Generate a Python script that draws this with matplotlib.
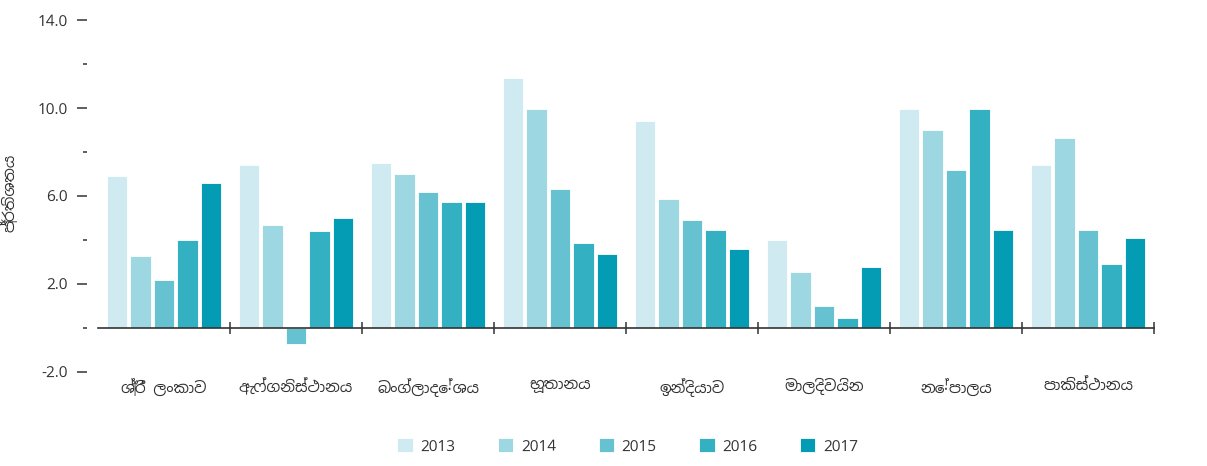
import matplotlib
matplotlib.use('Agg')
import matplotlib.pyplot as plt
import numpy as np
from matplotlib import font_manager

countries = ['ශ්‍රී ලංකාව', 'ඇෆ්ගනිස්ථානය', 'බංග්ලාදේශය', 'භූතානය',
             'ඉන්දියාව', 'මාලදිවයින', 'නේපාලය', 'පාකිස්ථානය']
years = ['2013', '2014', '2015', '2016', '2017']
v2013 = [6.9, 7.4, 7.5, 11.35, 9.42, 4.02, 9.95, 7.42]
v2014 = [3.27, 4.68, 6.98, 9.94, 5.86, 2.55, 8.98, 8.62]
v2015 = [2.18, -0.71, 6.16, 6.32, 4.9, 0.98, 7.2, 4.45]
v2016 = [4.0, 4.39, 5.73, 3.86, 4.45, 0.47, 9.95, 2.9]
v2017 = [6.6, 4.98, 5.73, 3.35, 3.58, 2.76, 4.45, 4.09]
colors = ['#cfeaf0', '#9dd7e1', '#66c2d1', '#33b0c2', '#039cb4']

# look for a font that has Sinhala glyphs
sinhala = [f.name for f in font_manager.fontManager.ttflist
           if 'sinhala' in f.name.lower() or 'iskoola' in f.name.lower()]
plt.rcParams['font.family'] = sinhala[:1] + ['DejaVu Sans']
txt = '#333333'

fig = plt.figure(figsize=(12.07, 4.66), dpi=100)
ax = fig.add_axes([98 / 1207, 1 - 372 / 466, 1056 / 1207, 352 / 466])

x = np.arange(len(countries))
pitch = 0.178
width = 0.152
for i, (vals, yr) in enumerate(zip([v2013, v2014, v2015, v2016, v2017], years)):
    ax.bar(x + (i - 2) * pitch, vals, width, color=colors[i], label=yr,
           edgecolor='white', linewidth=0.6, zorder=2)

ax.set_xlim(-0.5, 7.5)
ax.set_ylim(-2, 14)

for s in ['top', 'right', 'left']:
    ax.spines[s].set_visible(False)
ax.spines['left'].set_position(('outward', 8))
ax.spines['bottom'].set_position(('data', 0))
ax.spines['bottom'].set_color('#333333')
ax.spines['bottom'].set_linewidth(1.2)
ax.spines['bottom'].set_zorder(3)

ax.set_yticks([-2, 2, 6, 10, 14])
ax.set_yticks([0, 4, 8, 12], minor=True)
ax.set_yticklabels(['%.1f' % v for v in [-2, 2, 6, 10, 14]])
ax.tick_params(axis='y', which='major', length=7.2, width=1.1, color=txt,
               labelcolor=txt, labelsize=11, pad=6.5)
ax.tick_params(axis='y', which='minor', length=2.9, width=1.1, color=txt)

ax.set_xticks(np.arange(8) + 0.5)
ax.set_xticklabels([])
ax.set_xticks(x, minor=True)
ax.set_xticklabels(countries, minor=True)
ax.tick_params(axis='x', which='major', direction='inout', length=9,
               width=1.1, color=txt)
ax.tick_params(axis='x', which='minor', length=0, pad=36, labelsize=11,
               labelcolor=txt)

ax.set_ylabel('ප්‍රතිශතය', fontsize=11, color=txt)
ax.yaxis.set_label_coords(-0.076, 0.51)

fig.legend(loc='center', bbox_to_anchor=(0.52, 0.043), ncol=5, frameon=False,
           fontsize=11, handlelength=1, handleheight=1, handletextpad=0.5,
           columnspacing=2.8, labelcolor=txt)

fig.savefig('out.png', dpi=100)
